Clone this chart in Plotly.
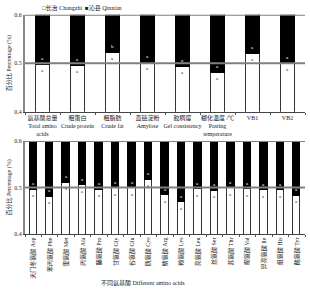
import plotly.graph_objects as go

FONT = "Liberation Serif, Noto Sans CJK SC, serif"

# Top panel: quality traits
traits = ["氨基酸总量<br>Total amino<br>acids", "粗蛋白<br>Crude protein", "粗脂肪<br>Crude fat",
          "直链淀粉<br>Amylose", "胶稠度<br>Gel consistency", "糊化温度 /℃<br>Pasting<br>temperature",
          "VB1", "VB2"]
traits_changzhi = [0.497, 0.4955, 0.522, 0.502, 0.4935, 0.481, 0.5195, 0.500]
traits_qinxian = [round(1 - v, 4) for v in traits_changzhi]
traits_letter_cz = ["a"] * 8
traits_letter_qx = ["a", "a", "b", "a", "a", "a", "a", "a"]

# Bottom panel: amino acids
aminos = ["天门冬氨酸 Asp", "苯丙氨酸 Phe", "蛋氨酸 Met", "丙氨酸 Ala", "脯氨酸 Pro", "甘氨酸 Gly",
          "谷氨酸 Glu", "胱氨酸 Cys", "精氨酸 Arg", "赖氨酸 Lys", "亮氨酸 Leu", "丝氨酸 Ser",
          "苏氨酸 Thr", "缬氨酸 Val", "异亮氨酸 Ile", "组氨酸 His", "酪氨酸 Tyr"]
aminos_changzhi = [0.495, 0.480, 0.510, 0.5055, 0.4955, 0.4985, 0.4985, 0.517, 0.483, 0.468,
                   0.4965, 0.493, 0.4985, 0.496, 0.4945, 0.4945, 0.482]
aminos_qinxian = [round(1 - v, 4) for v in aminos_changzhi]
aminos_letter_cz = ["a"] * 17
aminos_letter_qx = ["a"] * 17

fig = go.Figure()
fig.add_bar(x=traits, y=traits_changzhi, marker=dict(color="white", line=dict(color="#333", width=1)),
            width=0.4, xaxis="x", yaxis="y", name="长治 Changzhi", showlegend=False)
fig.add_bar(x=traits, y=traits_qinxian, marker=dict(color="black", line=dict(color="black", width=1)),
            width=0.4, xaxis="x", yaxis="y", name="沁县 Qinxian", showlegend=False)
fig.add_bar(x=aminos, y=aminos_changzhi, marker=dict(color="white", line=dict(color="#333", width=1)),
            width=0.45, xaxis="x2", yaxis="y2", showlegend=False)
fig.add_bar(x=aminos, y=aminos_qinxian, marker=dict(color="black", line=dict(color="black", width=1)),
            width=0.45, xaxis="x2", yaxis="y2", showlegend=False)

XD = [25 / 310, 305 / 310]
Y1 = [(291 - 111) / 291, (291 - 12) / 291]
Y2 = [(291 - 236) / 291, (291 - 141) / 291]

axcommon = dict(showgrid=False, zeroline=False)
fig.update_layout(
    width=310, height=291, margin=dict(l=0, r=0, t=0, b=0),
    paper_bgcolor="white", plot_bgcolor="white", barmode="stack", bargap=0,
    font=dict(family=FONT, size=6, color="#222"),
    xaxis=dict(domain=XD, anchor="y", tickangle=0, ticks="outside", tickson="boundaries",
               ticklen=2, tickcolor="#555", showline=True, linecolor="#444", linewidth=1,
               tickfont=dict(size=6), **axcommon),
    yaxis=dict(domain=Y1, anchor="x", range=[0.4, 0.6], tickvals=[0.4, 0.5, 0.6],
               ticktext=["0.4", "0.5", "0.6"], showline=True, linecolor="#888", linewidth=2,
               ticks="", tickfont=dict(size=6), **axcommon),
    xaxis2=dict(domain=XD, anchor="y2", tickangle=-90, ticks="outside", tickson="boundaries",
                ticklen=2, tickcolor="#555", showline=True, linecolor="#444", linewidth=1,
                tickfont=dict(size=6), **axcommon),
    yaxis2=dict(domain=Y2, anchor="x2", range=[0.4, 0.6], tickvals=[0.4, 0.5, 0.6],
                ticktext=["0.4", "0.5", "0.6"], showline=True, linecolor="#888", linewidth=2,
                ticks="", tickfont=dict(size=6), **axcommon),
)

shapes = []
for xr, yr in (("x domain", "y"), ("x2 domain", "y2")):
    for yv in (0.5, 0.6):
        shapes.append(dict(type="line", xref=xr, yref=yr, x0=0, x1=1, y0=yv, y1=yv,
                           line=dict(color="#808080", width=2), layer="above"))
fig.update_layout(shapes=shapes)

ann = []
for cats, vals, lq, lc, xr, yr in ((traits, traits_changzhi, traits_letter_qx, traits_letter_cz, "x", "y"),
                                   (aminos, aminos_changzhi, aminos_letter_qx, aminos_letter_cz, "x2", "y2")):
    for c, v, a1, a2 in zip(cats, vals, lq, lc):
        ann.append(dict(x=c, y=v, xref=xr, yref=yr, text=a1, showarrow=False, yshift=6,
                        font=dict(size=5, color="white")))
        ann.append(dict(x=c, y=v, xref=xr, yref=yr, text=a2, showarrow=False, yshift=-6,
                        font=dict(size=5, color="#333")))

ann.append(dict(x=9, y=(291 - 61.5) / 291, xref="paper", yref="paper", xanchor="center", yanchor="middle",
                text="百分比 Percentage (%)", textangle=-90, showarrow=False, font=dict(size=6)))
ann.append(dict(x=9, y=(291 - 188.5) / 291, xref="paper", yref="paper", xanchor="center", yanchor="middle",
                text="百分比 Percentage (%)", textangle=-90, showarrow=False, font=dict(size=6)))
ann[-1]["x"] = 9 / 310
ann[-2]["x"] = 9 / 310
ann.append(dict(x=143 / 310, y=(291 - 286) / 291, xref="paper", yref="paper", xanchor="center",
                yanchor="middle", text="不同氨基酸 Different amino acids", showarrow=False,
                font=dict(size=6)))
ann.append(dict(x=40 / 310, y=(291 - 5) / 291, xref="paper", yref="paper", xanchor="left",
                yanchor="middle", text="□长治 Changzhi  ■沁县 Qinxian", showarrow=False,
                font=dict(size=6)))
fig.update_layout(annotations=ann)

fig.write_html("out.html")
